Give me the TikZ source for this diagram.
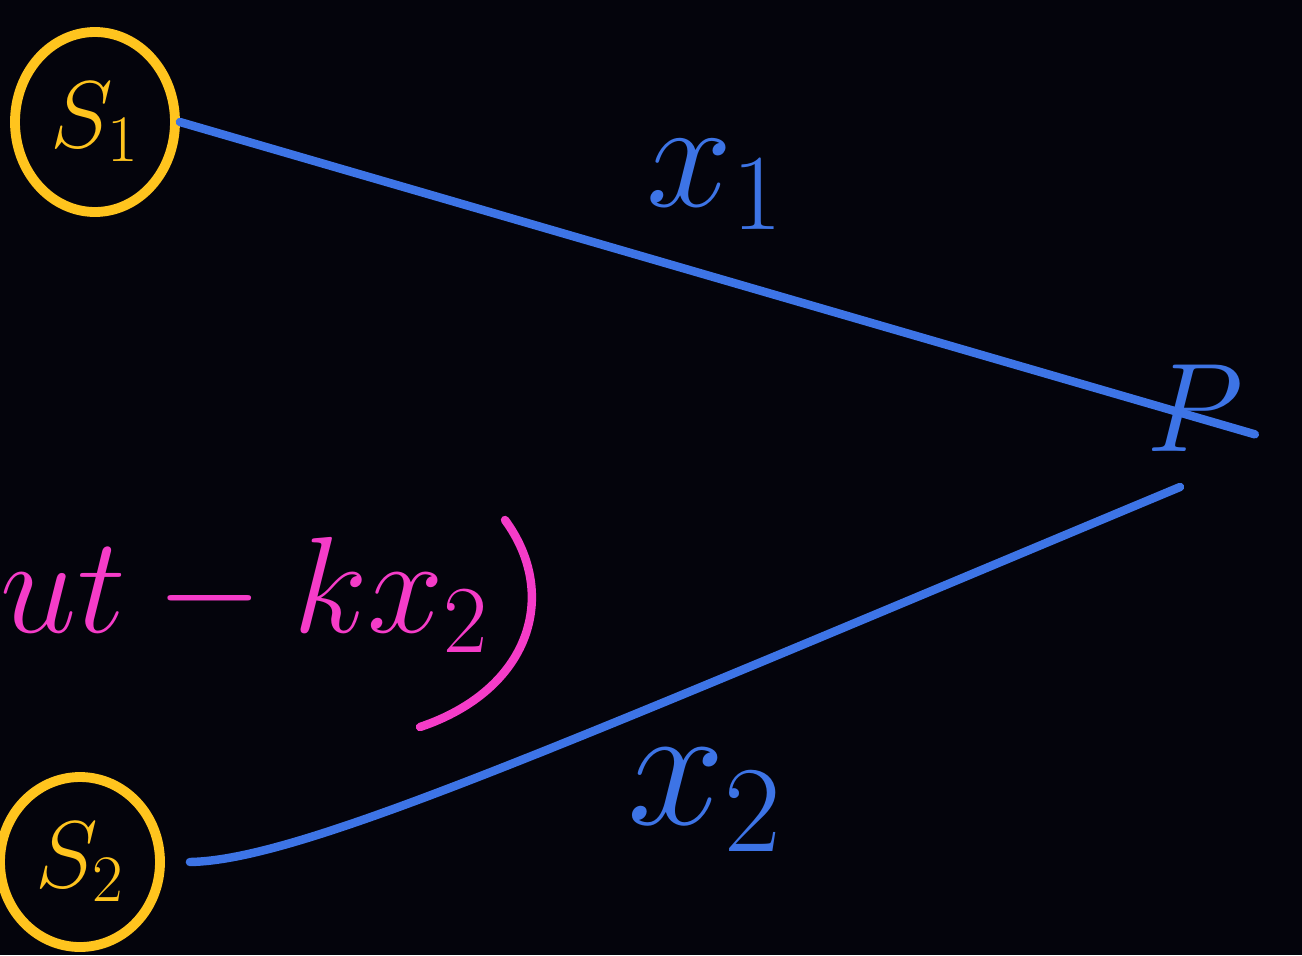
\RequirePackage{fix-cm}
\documentclass[tikz,border=0pt]{standalone}
\usepackage{tikz}
\usetikzlibrary{shapes.geometric,positioning,calc}
\definecolor{board}{HTML}{04040C}
\definecolor{chalkyellow}{HTML}{FFC41E}
\definecolor{chalkblue}{HTML}{3D74E6}
\definecolor{chalkpink}{HTML}{F53CC8}

\begin{document}
\begin{tikzpicture}[
		source/.style={
			ellipse, draw=chalkyellow, line width=2.8pt,
			text=chalkyellow, inner sep=0pt,
			minimum width=1.6cm, minimum height=1.8cm,
			font=\fontsize{27}{30}\selectfont
		},
		ray/.style={draw=chalkblue, line width=2.4pt, line cap=round},
		raylabel/.style={text=chalkblue, font=\fontsize{44}{48}\selectfont},
		wave/.style={text=chalkpink, font=\fontsize{39}{42}\selectfont}
		]
		
		% board
		\fill[board] (0,0) rectangle (13.02,-9.55);
		\useasboundingbox (0,0) rectangle (13.02,-9.55);
		
		% sources
		\node[source] (s1) at (0.95,-1.22) {$S_1$};
		\node[source, minimum height=1.7cm] (s2) at (0.80,-8.62) {$S_2$};
		
		% point P
		\coordinate (p) at (11.78,-4.12);
		\coordinate (pend) at (11.80,-4.87);
		\node[raylabel, font=\fontsize{36}{40}\selectfont] (plabel) at (11.95,-4.08) {$P$};
		
		% paths
		\draw[ray] (s1.east) -- (p) -- ($(s1.east)!1.077!(p)$);
		\draw[ray] ([xshift=0.25cm]s2.east) .. controls (3.0,-8.6) and (5.5,-7.5) .. (pend);
		
		% path labels
		\node[raylabel] (x1) at (7.15,-1.85) {$x_1$};
		\node[raylabel, font=\fontsize{50}{54}\selectfont] (x2) at (7.05,-8.0) {$x_2$};
		
		% wave term
		\node[wave, anchor=base west, inner sep=0pt] (term) at (0,-6.32) {$ut - kx_2$};
		\draw[chalkpink, line width=2.4pt, line cap=round]
			(5.05,-5.2) .. controls (5.6,-5.95) and (5.3,-6.9) .. (4.2,-7.27);
	\end{tikzpicture}
\end{document}
